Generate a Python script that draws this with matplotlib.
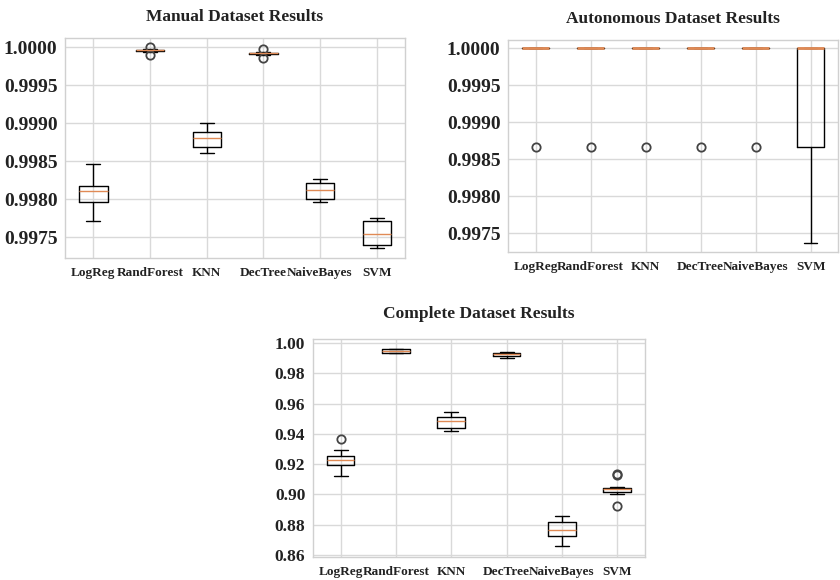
import matplotlib
matplotlib.use("Agg")
import matplotlib.pyplot as plt
import seaborn as sns
from matplotlib.ticker import FormatStrFormatter, MultipleLocator

sns.set_style("whitegrid")
plt.rcParams['font.family'] = ['Liberation Serif', 'DejaVu Serif']
plt.rcParams['font.weight'] = 'bold'

models = ["LogReg", "RandForest", "KNN", "DecTree", "NaiveBayes", "SVM"]

# Manual dataset box statistics
man_whislo = [0.99771, 0.99994, 0.99861, 0.99990, 0.99796, 0.99736]
man_q1     = [0.99797, 0.99995, 0.99869, 0.99991, 0.99801, 0.99740]
man_med    = [0.99811, 0.99996, 0.99881, 0.99992, 0.99812, 0.99754]
man_q3     = [0.99818, 0.99997, 0.99889, 0.99993, 0.99821, 0.99771]
man_whishi = [0.99847, 0.99998, 0.99900, 0.99994, 0.99827, 0.99775]
man_fliers = [[], [1.0, 0.99990], [], [0.99998, 0.99986], [], []]

# Autonomous dataset box statistics
aut_whislo = [1.0, 1.0, 1.0, 1.0, 1.0, 0.99737]
aut_q1     = [1.0, 1.0, 1.0, 1.0, 1.0, 0.99867]
aut_med    = [1.0, 1.0, 1.0, 1.0, 1.0, 1.0]
aut_q3     = [1.0, 1.0, 1.0, 1.0, 1.0, 1.0]
aut_whishi = [1.0, 1.0, 1.0, 1.0, 1.0, 1.0]
aut_fliers = [[0.99867], [0.99867], [0.99867], [0.99867], [0.99867], []]

# Complete dataset box statistics
com_whislo = [0.9120, 0.9934, 0.9422, 0.9901, 0.8657, 0.9001]
com_q1     = [0.9193, 0.9938, 0.9438, 0.9916, 0.8724, 0.9015]
com_med    = [0.9228, 0.9950, 0.9484, 0.9927, 0.8765, 0.9034]
com_q3     = [0.9253, 0.9960, 0.9511, 0.9938, 0.8816, 0.9045]
com_whishi = [0.9297, 0.9963, 0.9548, 0.9941, 0.8856, 0.9052]
com_fliers = [[0.9365], [], [], [], [], [0.9129, 0.9135, 0.8924]]

MED_COLOR = '#e08a55'


def stats(lo, q1, med, q3, hi, fl):
    return [dict(label=m, whislo=a, q1=b, med=c, q3=d, whishi=e, fliers=f)
            for m, a, b, c, d, e, f in zip(models, lo, q1, med, q3, hi, fl)]


def draw(ax, st, title, ylim, step, fmt, ysize, pad, med_lw=1.0):
    ax.bxp(st, showfliers=True,
           boxprops=dict(color='black', linewidth=1.0),
           whiskerprops=dict(color='black', linewidth=1.0),
           capprops=dict(color='black', linewidth=1.0),
           medianprops=dict(color=MED_COLOR, linewidth=med_lw, zorder=5),
           flierprops=dict(marker='o', markerfacecolor='none',
                           markeredgecolor='#444444', markersize=6,
                           markeredgewidth=1.3))
    ax.set_ylim(*ylim)
    ax.yaxis.set_major_locator(MultipleLocator(step))
    ax.yaxis.set_major_formatter(FormatStrFormatter(fmt))
    ax.set_title(title, fontsize=12.5, fontweight='bold', pad=pad, color='#222222')
    ax.tick_params(axis='y', labelsize=ysize, pad=2, colors='#222222')
    ax.tick_params(axis='x', labelsize=9.5, pad=3, colors='#222222')
    for lbl in ax.get_xticklabels() + ax.get_yticklabels():
        lbl.set_fontweight('bold')
    ax.grid(True, color='#d9d9d9', linewidth=1.0)
    for s in ax.spines.values():
        s.set_color('#d0d0d0')
        s.set_linewidth(1.0)


fig = plt.figure(figsize=(8.4, 5.8), dpi=100)
ax1 = fig.add_axes([0.0774, 0.5552, 0.4048, 0.3793])
ax2 = fig.add_axes([0.6048, 0.5655, 0.3929, 0.3655])
ax3 = fig.add_axes([0.3726, 0.0397, 0.3952, 0.3759])

draw(ax1, stats(man_whislo, man_q1, man_med, man_q3, man_whishi, man_fliers),
     "Manual Dataset Results", (0.997228, 1.000122), 0.0005, '%.4f', 14, 12)
draw(ax2, stats(aut_whislo, aut_q1, aut_med, aut_q3, aut_whishi, aut_fliers),
     "Autonomous Dataset Results", (0.997247, 1.000112), 0.0005, '%.4f', 14, 12,
     med_lw=2.0)
draw(ax3, stats(com_whislo, com_q1, com_med, com_q3, com_whishi, com_fliers),
     "Complete Dataset Results", (0.85868, 1.00284), 0.02, '%.2f', 12.5, 15)

fig.savefig("out.png", dpi=100)
